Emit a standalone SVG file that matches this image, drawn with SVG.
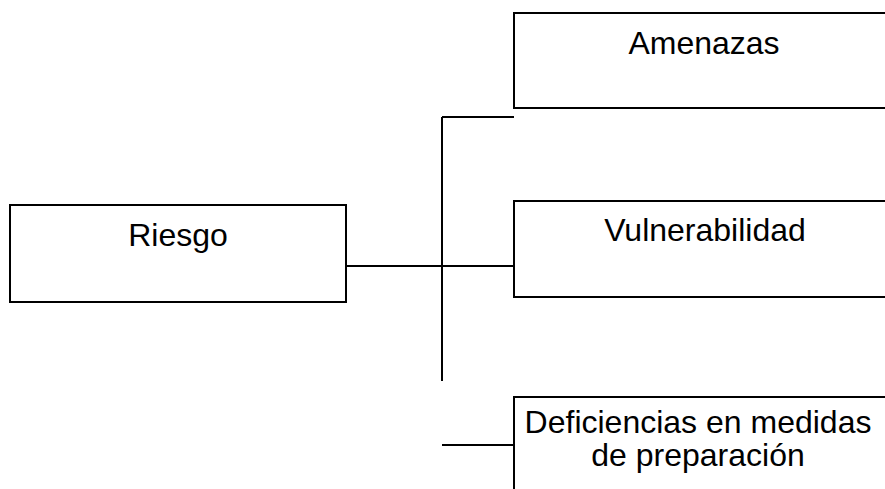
<svg xmlns="http://www.w3.org/2000/svg" width="885" height="489" viewBox="0 0 885 489">
<style>
.box{fill:#fff;stroke:#000;stroke-width:2}
.ln{stroke:#000;stroke-width:2;fill:none}
.t{font-family:"Liberation Sans",Arial,sans-serif;font-size:32px;fill:#000;text-anchor:middle}
</style>
<rect width="885" height="489" fill="#fff"/>
<g id="connectors">
<line class="ln" x1="442" y1="117" x2="514" y2="117"/>
<line class="ln" x1="442" y1="117" x2="442" y2="381"/>
<line class="ln" x1="346" y1="266" x2="514" y2="266"/>
<line class="ln" x1="442" y1="445" x2="514" y2="445"/>
</g>
<g id="riesgo">
<rect class="box" x="10" y="205" width="336" height="97"/>
<text class="t" x="178" y="246">Riesgo</text>
</g>
<g id="amenazas">
<rect class="box" x="514" y="13" width="390" height="95"/>
<text class="t" x="704" y="54">Amenazas</text>
</g>
<g id="vulnerabilidad">
<rect class="box" x="514" y="201" width="390" height="96"/>
<text class="t" x="705" y="241">Vulnerabilidad</text>
</g>
<g id="deficiencias">
<rect class="box" x="514" y="397" width="390" height="120"/>
<text class="t" x="698" y="433">Deficiencias en medidas</text>
<text class="t" x="698" y="466">de preparación</text>
</g>
</svg>
